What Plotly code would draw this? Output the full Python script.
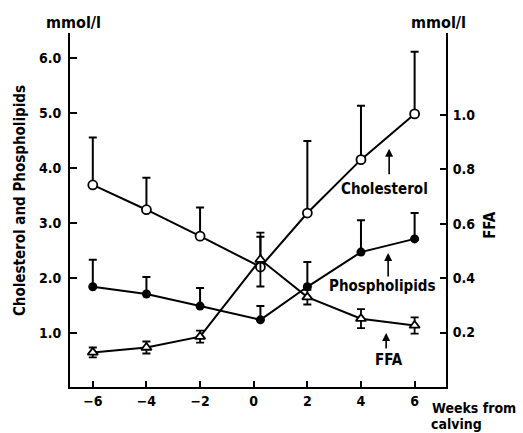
import plotly.graph_objects as go

weeks = [-6, -4, -2, 0.25, 2, 4, 6]
chol = [3.69, 3.24, 2.76, 2.20, 3.18, 4.15, 4.98]
chol_err = [0.86, 0.58, 0.52, 0.55, 1.31, 0.98, 1.13]
phos = [1.84, 1.71, 1.49, 1.24, 1.84, 2.47, 2.71]
phos_err = [0.49, 0.31, 0.33, 0.25, 0.45, 0.58, 0.47]
ffa = [0.127, 0.145, 0.185, 0.468, 0.330, 0.251, 0.226]
ffa_err = [0.018, 0.022, 0.022, 0.099, 0.027, 0.035, 0.030]

x_ticks = [-6, -4, -2, 0, 2, 4, 6]
x_ticktext = ["\u22126", "\u22124", "\u22122", "0", "2", "4", "6"]
left_ticks = [1.0, 2.0, 3.0, 4.0, 5.0, 6.0]
left_ticktext = ["1.0", "2.0", "3.0", "4.0", "5.0", "6.0"]
right_ticks = [0.2, 0.4, 0.6, 0.8, 1.0]
right_ticktext = ["0.2", "0.4", "0.6", "0.8", "1.0"]

FONT = "DejaVu Sans Condensed"
fnt = dict(family=FONT, size=13, color="black", weight="bold")

fig = go.Figure()
fig.add_trace(go.Scatter(
    x=weeks, y=chol, mode="lines+markers",
    line=dict(color="black", width=2),
    marker=dict(symbol="circle", size=9, color="white", line=dict(color="black", width=1.8)),
    error_y=dict(type="data", symmetric=False, array=chol_err, arrayminus=[0]*7,
                 color="black", thickness=2, width=4),
    showlegend=False))
fig.add_trace(go.Scatter(
    x=weeks, y=phos, mode="lines+markers",
    line=dict(color="black", width=2),
    marker=dict(symbol="circle", size=9, color="black"),
    error_y=dict(type="data", symmetric=False, array=phos_err, arrayminus=[0]*7,
                 color="black", thickness=2, width=4),
    showlegend=False))
fig.add_trace(go.Scatter(
    x=weeks, y=ffa, mode="lines+markers", yaxis="y2",
    line=dict(color="black", width=2),
    marker=dict(symbol="triangle-up", size=9, color="white", line=dict(color="black", width=1.8)),
    error_y=dict(type="data", array=ffa_err, color="black", thickness=1.8, width=4),
    showlegend=False))

fig.update_layout(
    width=523, height=433,
    margin=dict(l=70, r=77, t=33, b=46),
    paper_bgcolor="white", plot_bgcolor="white",
    font=fnt,
    xaxis=dict(range=[-6.85, 7.17], tickvals=x_ticks, ticktext=x_ticktext,
               ticks="inside", ticklen=6, tickwidth=2, tickcolor="black",
               showline=True, linewidth=2, linecolor="black", showgrid=False,
               zeroline=False, tickfont=dict(family=FONT, size=14, weight="bold")),
    yaxis=dict(range=[0.02, 6.45], tickvals=left_ticks, ticktext=left_ticktext,
               ticks="inside", ticklen=7, tickwidth=2, tickcolor="black",
               showline=True, linewidth=2, linecolor="black", showgrid=False,
               zeroline=False, ticklabelstandoff=4,
               tickfont=dict(family=FONT, size=14, weight="bold")),
    yaxis2=dict(range=[0.0, 1.30], tickvals=right_ticks, ticktext=right_ticktext,
                overlaying="y", side="right", anchor="x",
                ticks="inside", ticklen=6, tickwidth=2, tickcolor="black",
                showline=True, linewidth=2, linecolor="black", showgrid=False,
                zeroline=False, ticklabelstandoff=2,
                tickfont=dict(family=FONT, size=14, weight="bold")),
)

def px2x(px):
    return (px - 254.5) / 26.83

def py2y(py):
    return (388 - py) / 55.0

ann = []
# series labels
for txt, cx, cy in [("Cholesterol", 385, 189), ("Phospholipids", 383, 286), ("FFA", 390, 360)]:
    ann.append(dict(x=px2x(cx), y=py2y(cy), xref="x", yref="y", text=txt, showarrow=False,
                    font=dict(family=FONT, size=15, weight="bold")))
# arrows
for ax_px, tip, tail in [(390, 149, 176), (389, 253, 278), (387, 333, 350)]:
    ann.append(dict(x=px2x(ax_px), y=py2y(tip), xref="x", yref="y", text="",
                    showarrow=True, ax=0, ay=tail - tip, arrowhead=2, arrowsize=1,
                    arrowwidth=1.6, arrowcolor="black"))
# units
ann.append(dict(x=(73 - 70) / 376, y=(387 - 23) / 354, xref="paper", yref="paper", text="mmol/l",
                showarrow=False, xanchor="center", yanchor="middle",
                font=dict(family=FONT, size=16, weight="bold")))
ann.append(dict(x=(438 - 70) / 376, y=(387 - 23) / 354, xref="paper", yref="paper", text="mmol/l",
                showarrow=False, xanchor="center", yanchor="middle",
                font=dict(family=FONT, size=16, weight="bold")))
# axis titles
ann.append(dict(x=-0.133, y=0.528, xref="paper", yref="paper", text="Cholesterol and Phospholipids",
                showarrow=False, textangle=-90, xanchor="center", yanchor="middle",
                font=dict(family=FONT, size=15, weight="bold")))
ann.append(dict(x=1.117, y=0.458, xref="paper", yref="paper", text="FFA",
                showarrow=False, textangle=-90, xanchor="center", yanchor="middle",
                font=dict(family=FONT, size=15, weight="bold")))
ann.append(dict(x=(430 - 70) / 376, y=(387 - 408) / 354, xref="paper", yref="paper",
                text="Weeks from", showarrow=False, xanchor="left", yanchor="middle",
                font=dict(family=FONT, size=14, weight="bold")))
ann.append(dict(x=(429 - 70) / 376, y=(387 - 424) / 354, xref="paper", yref="paper",
                text="calving", showarrow=False, xanchor="left", yanchor="middle",
                font=dict(family=FONT, size=14, weight="bold")))
fig.update_layout(annotations=ann)

fig.write_html("out.html", config={"displayModeBar": False},
               post_script="document.body.style.margin='0';")
